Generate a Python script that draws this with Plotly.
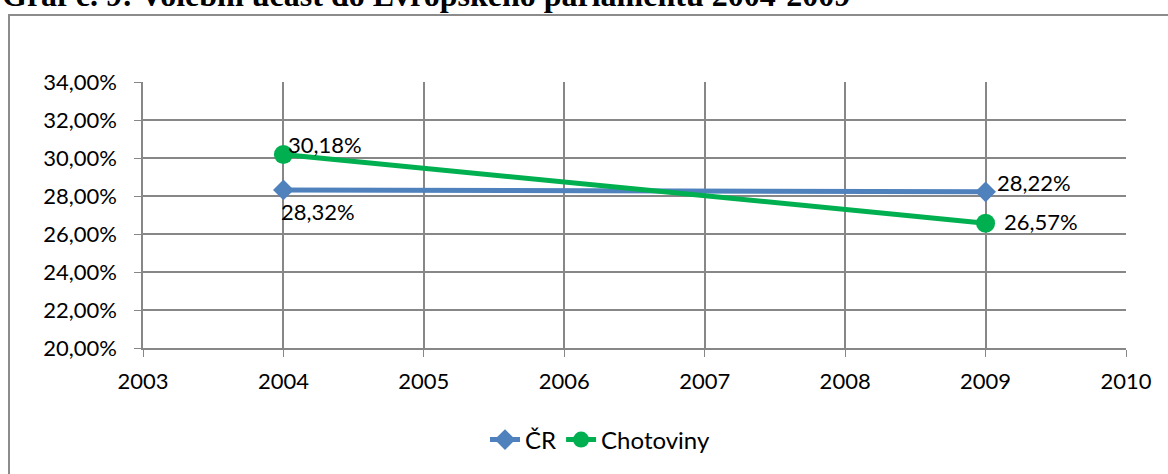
import plotly.graph_objects as go

years = [2004, 2009]
cr = [0.2832, 0.2822]
chotoviny = [0.3018, 0.2657]

title = 'Graf č. 9: Volební účast do Evropského parlamentu 2004-2009'

# figure size and plot area in pixels
W, H = 1168, 474
L, R, T, B = 143, 42, 82, 126
pw = W - L - R
ph = H - T - B


def px_x(x):
    return (x - L) / pw


def px_y(y):
    return (H - B - y) / ph


def fmt(v):
    return f'{v * 100:.2f}%'.replace('.', ',')


grid = '#878787'
font = 'Lato, Calibri, sans-serif'
fsize = 22

fig = go.Figure()

# CR
fig.add_trace(
    go.Scatter(
        x=years,
        y=cr,
        name='ČR',
        mode='lines+markers',
        line=dict(color='#4F81BD', width=5),
        marker=dict(symbol='diamond', size=16, color='#4F81BD'),
    )
)

# CHOTOVINY
fig.add_trace(
    go.Scatter(
        x=years,
        y=chotoviny,
        name='Chotoviny',
        mode='lines+markers',
        line=dict(color='#00B050', width=5),
        marker=dict(symbol='circle', size=19, color='#00B050'),
    )
)

# data labels
label_shift = [(-4, -22), (9, 9), (3, 10), (16, 2)]
points = [(years[0], cr[0]), (years[1], cr[1]), (years[0], chotoviny[0]), (years[1], chotoviny[1])]
for (x, y), (dx, dy) in zip(points, label_shift):
    fig.add_annotation(
        x=x, y=y, text=fmt(y), showarrow=False,
        xanchor='left', yanchor='middle', xshift=dx, yshift=dy,
        font=dict(family=font, size=fsize, color='#000000'),
    )

# cut-off title above the chart box
fig.add_annotation(
    xref='paper', yref='paper', x=px_x(0), y=px_y(15),
    xanchor='left', yanchor='bottom', showarrow=False, text=f'<b>{title}</b>',
    font=dict(family='Liberation Serif, Times New Roman, serif', size=32, color='#000000'),
)

# chart border
fig.add_shape(
    type='rect', xref='paper', yref='paper',
    x0=px_x(9), x1=px_x(W + 20), y0=px_y(H + 20), y1=px_y(15),
    line=dict(color='#8c8c8c', width=2), layer='below',
)

fig.update_layout(
    width=W,
    height=H,
    margin=dict(l=L, r=R, t=T, b=B),
    paper_bgcolor='white',
    plot_bgcolor='white',
    separators=', ',
    font=dict(family=font, size=fsize, color='#000000'),
    showlegend=True,
    legend=dict(
        orientation='h',
        x=px_x(600), xanchor='center',
        y=px_y(440), yanchor='middle',
        font=dict(family=font, size=24),
    ),
    xaxis=dict(
        range=[2003, 2010],
        dtick=1,
        tick0=2003,
        showgrid=True,
        gridcolor=grid,
        gridwidth=1.5,
        showline=True,
        linecolor=grid,
        linewidth=1.5,
        ticks='outside',
        ticklen=7,
        tickcolor=grid,
        ticklabelstandoff=6,
        zeroline=False,
    ),
    yaxis=dict(
        range=[0.20, 0.34],
        dtick=0.02,
        tickformat='.2%',
        showgrid=True,
        gridcolor=grid,
        gridwidth=1.5,
        showline=True,
        linecolor=grid,
        linewidth=1.5,
        ticks='outside',
        ticklen=7,
        tickcolor=grid,
        ticklabelstandoff=13,
        zeroline=False,
    ),
)

# no page margin, so the chart sits flush with the window like the reference
fig.write_html(
    'out.html',
    config={'displayModeBar': False},
    post_script="document.body.style.margin = '0';",
)
